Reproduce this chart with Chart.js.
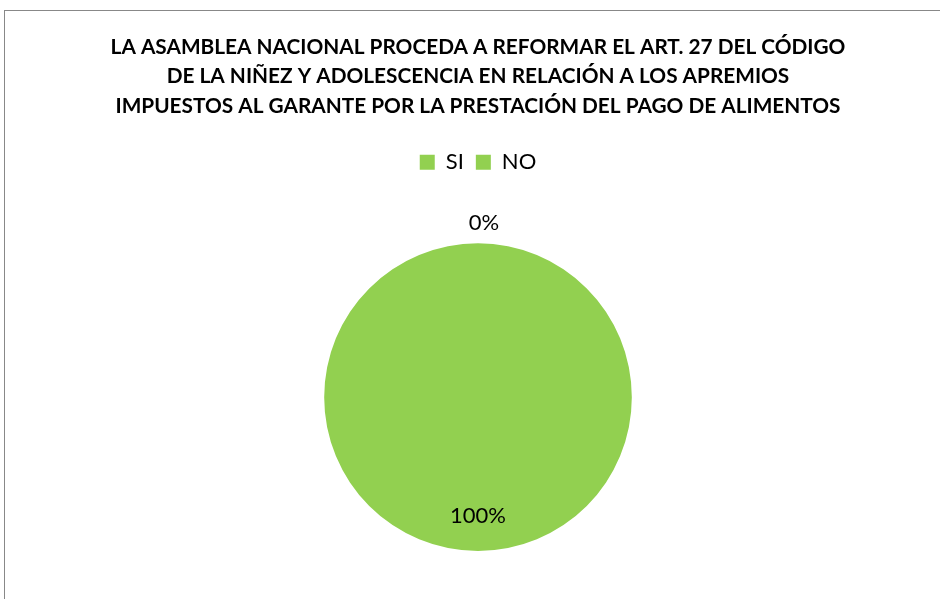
<!DOCTYPE html>
<html>
<head>
<meta charset="utf-8">
<script src="https://cdn.jsdelivr.net/npm/chart.js@4"></script>
<style>
  body { margin: 0; background: #fff; }
  #wrap { position: relative; width: 940px; height: 599px; overflow: hidden; }
  #frame { position: absolute; left: 4px; top: 10px; width: 1000px; height: 1000px;
           border-top: 1px solid #888; border-left: 1px solid #888; }
  canvas { position: absolute; left: 0; top: 0; }
</style>
</head>
<body>
<div id="wrap">
  <div id="frame"></div>
  <canvas id="grafico" width="940" height="599"></canvas>
</div>
<script>
// datos
const categorias = ["SI", "NO"];
const porcentajes = [100, 0];
const titulo = [
  "LA ASAMBLEA NACIONAL PROCEDA A REFORMAR EL ART. 27 DEL CÓDIGO",
  "DE LA NIÑEZ Y ADOLESCENCIA EN RELACIÓN A LOS APREMIOS",
  "IMPUESTOS AL GARANTE POR LA PRESTACIÓN DEL PAGO DE ALIMENTOS"
];
const colores = ["#92D050", "#92D050"];

const fuente = "Lato, 'Open Sans', sans-serif";

// deja espacio debajo de la leyenda
const espacioLeyenda = {
  id: "espacioLeyenda",
  beforeLayout(chart) {
    const leg = chart.legend;
    if (leg && !leg._parcheado) {
      const fit = leg.fit;
      leg.fit = function () {
        fit.call(this);
        this.height += 60;
      };
      leg._parcheado = true;
    }
  }
};

// etiquetas de porcentaje
const etiquetas = {
  id: "etiquetas",
  afterDatasetsDraw(chart) {
    const ctx = chart.ctx;
    const arcos = chart.getDatasetMeta(0).data;
    ctx.save();
    ctx.font = "22px " + fuente;
    ctx.fillStyle = "#000";
    ctx.textAlign = "center";
    ctx.textBaseline = "middle";
    arcos.forEach(function (arco, i) {
      const p = arco.getProps(["x", "y", "startAngle", "endAngle", "outerRadius"], true);
      const medio = (p.startAngle + p.endAngle) / 2;
      const r = porcentajes[i] === 0 ? p.outerRadius + 20 : p.outerRadius * 0.77;
      const dx = porcentajes[i] === 0 ? 6 : 0;
      ctx.fillText(porcentajes[i] + "%", p.x + Math.cos(medio) * r + dx, p.y + Math.sin(medio) * r);
    });
    ctx.restore();
  }
};

new Chart(document.getElementById("grafico"), {
  type: "pie",
  data: {
    labels: categorias,
    datasets: [{
      data: porcentajes,
      backgroundColor: colores,
      borderWidth: 0
    }]
  },
  options: {
    responsive: false,
    animation: false,
    layout: { padding: { left: 16, right: 0, top: 0, bottom: 48 } },
    plugins: {
      title: {
        display: true,
        text: titulo,
        color: "#000",
        font: { family: fuente, size: 20.8, weight: "bold", lineHeight: 1.4 },
        padding: { top: 33, bottom: 19 }
      },
      legend: {
        position: "top",
        labels: {
          color: "#000",
          font: { family: fuente, size: 22 },
          boxWidth: 15,
          boxHeight: 15,
          padding: 12
        }
      },
      tooltip: { enabled: false }
    }
  },
  plugins: [espacioLeyenda, etiquetas]
});
</script>
</body>
</html>
